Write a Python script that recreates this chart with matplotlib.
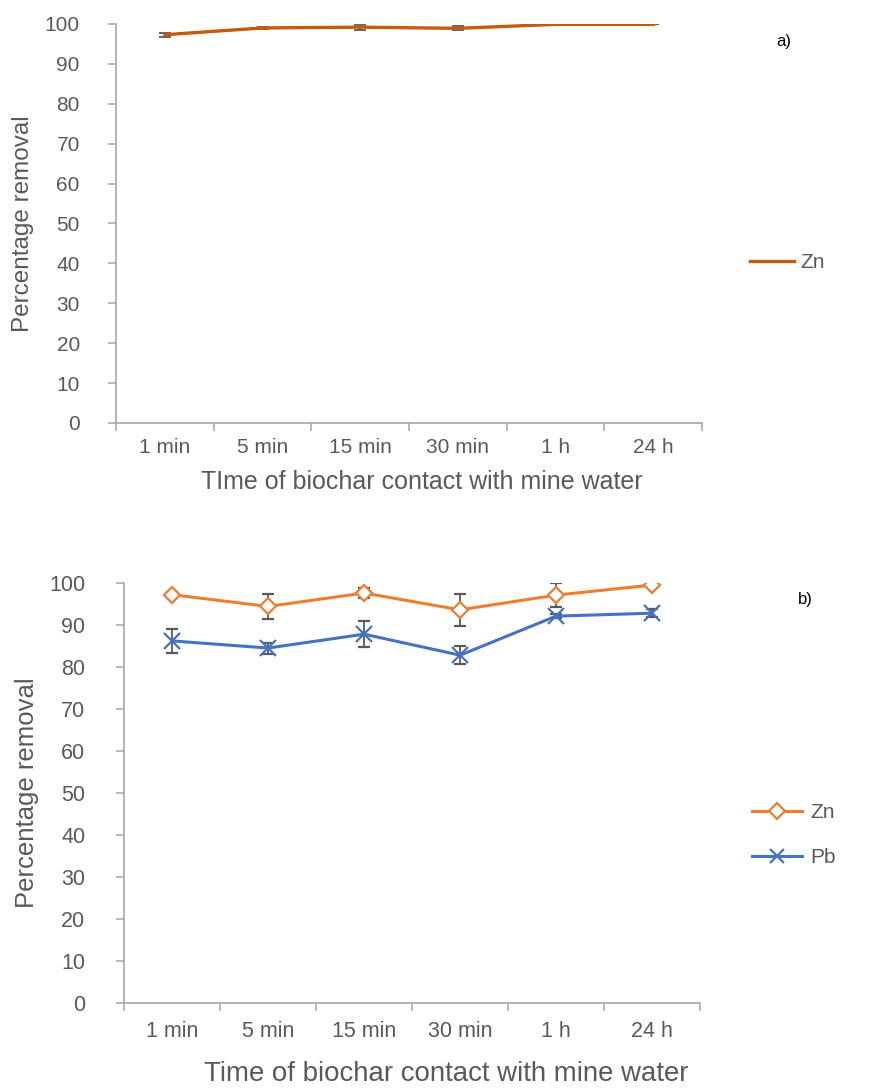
import matplotlib.pyplot as plt
from matplotlib.lines import Line2D
import numpy as np

plt.rcParams["font.family"] = ["Liberation Sans", "DejaVu Sans"]

# ============================================================
# Podatki
# ============================================================

times = ["1 min", "5 min", "15 min", "30 min", "1 h", "24 h"]
y_ticks = [0, 10, 20, 30, 40, 50, 60, 70, 80, 90, 100]

# a) samo Zn
zn_a = [97.3, 99.0, 99.2, 98.9, 99.9, 99.9]
zn_a_err = [0.5, 0.2, 0.6, 0.5, 0.0, 0.0]

# b) Zn in Pb
zn_b = [97.2, 94.4, 97.6, 93.6, 97.1, 99.5]
zn_b_err = [0.7, 3.0, 1.3, 3.8, 2.8, 0.4]
pb_b = [86.2, 84.5, 87.8, 82.8, 92.1, 92.8]
pb_b_err = [2.9, 1.3, 3.1, 2.2, 0.4, 0.9]

# ============================================================
# Slog
# ============================================================

text_col = "#595959"
axis_col = "#A6A6A6"
err_col = "#595959"
c_zn_a = "#C55A11"
c_zn = "#ED7D31"
c_pb = "#4472C4"

x = np.arange(len(times))


def style_axes(ax, xlabel, fs_tick, fs_lab, fs_xlab, xpad, ypad, xlabpad, ylabpad, xlab_x):
    ax.set_xlim(-0.5, len(times) - 0.5)
    ax.set_ylim(0, 100)
    ax.set_yticks(y_ticks)
    ax.set_xticks(np.arange(-0.5, len(times)), labels=[""] * (len(times) + 1))
    ax.set_xticks(x, labels=times, minor=True)
    ax.tick_params(axis="x", which="major", length=6, width=1.1, color=axis_col,
                   direction="out")
    ax.tick_params(axis="x", which="minor", length=0, pad=xpad + 6,
                   labelsize=fs_tick, labelcolor=text_col)
    ax.tick_params(axis="y", length=6, width=1.1, color=axis_col, direction="out",
                   labelsize=fs_tick, labelcolor=text_col, pad=ypad)
    for side in ["top", "right"]:
        ax.spines[side].set_visible(False)
    for side in ["left", "bottom"]:
        ax.spines[side].set_color(axis_col)
        ax.spines[side].set_linewidth(1.2)
    ax.set_ylabel("Percentage removal", fontsize=fs_lab, color=text_col,
                  labelpad=ylabpad)
    ax.set_xlabel(xlabel, fontsize=fs_xlab, color=text_col, labelpad=xlabpad)
    ax.xaxis.label.set_x(xlab_x)


fig = plt.figure(figsize=(8.8, 10.89), dpi=100)

# ============================================================
# a)
# ============================================================

ax1 = fig.add_axes([0.1318, 0.6116, 0.666, 0.3664])
ax1.errorbar(x, zn_a, yerr=zn_a_err, color=c_zn_a, lw=2.4, ecolor=err_col,
             elinewidth=1.3, capsize=4, capthick=1.3, zorder=3)
style_axes(ax1, "TIme of biochar contact with mine water",
           fs_tick=15, fs_lab=17.5, fs_xlab=18, xpad=5, ypad=20, xlabpad=9,
           ylabpad=8, xlab_x=0.522)

h_a = [Line2D([], [], color=c_zn_a, lw=2.4)]
fig.legend(h_a, ["Zn"], loc="center left", bbox_to_anchor=(750 / 880, 1 - 263 / 1089),
           frameon=False, fontsize=15, labelcolor=text_col, handlelength=2.1,
           handletextpad=0.3, borderpad=0, borderaxespad=0)
fig.text(0.882, 0.958, "a)", fontsize=12, color="black")

# ============================================================
# b)
# ============================================================

ax2 = fig.add_axes([0.141, 0.079, 0.6545, 0.3857])
ax2.errorbar(x, zn_b, yerr=zn_b_err, color=c_zn, lw=2.2, marker="D", ms=8,
             mfc="white", mec=c_zn, mew=1.6, ecolor=err_col, elinewidth=1.3,
             capsize=4.5, capthick=1.3, zorder=3)
ax2.errorbar(x, pb_b, yerr=pb_b_err, color=c_pb, lw=2.2, marker="x", ms=11,
             mec=c_pb, mew=1.6, ecolor=err_col, elinewidth=1.3,
             capsize=4.5, capthick=1.3, zorder=3)
style_axes(ax2, "Time of biochar contact with mine water",
           fs_tick=15.5, fs_lab=18.5, fs_xlab=19.9, xpad=7, ypad=22, xlabpad=14,
           ylabpad=7, xlab_x=0.56)

h_b = [
    Line2D([], [], color=c_zn, lw=2.2, marker="D", ms=8, mfc="white", mec=c_zn, mew=1.6),
    Line2D([], [], color=c_pb, lw=2.2, marker="x", ms=10, mec=c_pb, mew=1.6),
]
fig.legend(h_b, ["Zn", "Pb"], loc="center left",
           bbox_to_anchor=(752 / 880, 1 - 835 / 1089), frameon=False, fontsize=15,
           labelcolor=text_col, handlelength=2.4, handletextpad=0.4,
           labelspacing=1.25, borderpad=0, borderaxespad=0)
fig.text(0.907, 0.445, "b)", fontsize=12, color="black")

fig.savefig("out.png", dpi=100)
